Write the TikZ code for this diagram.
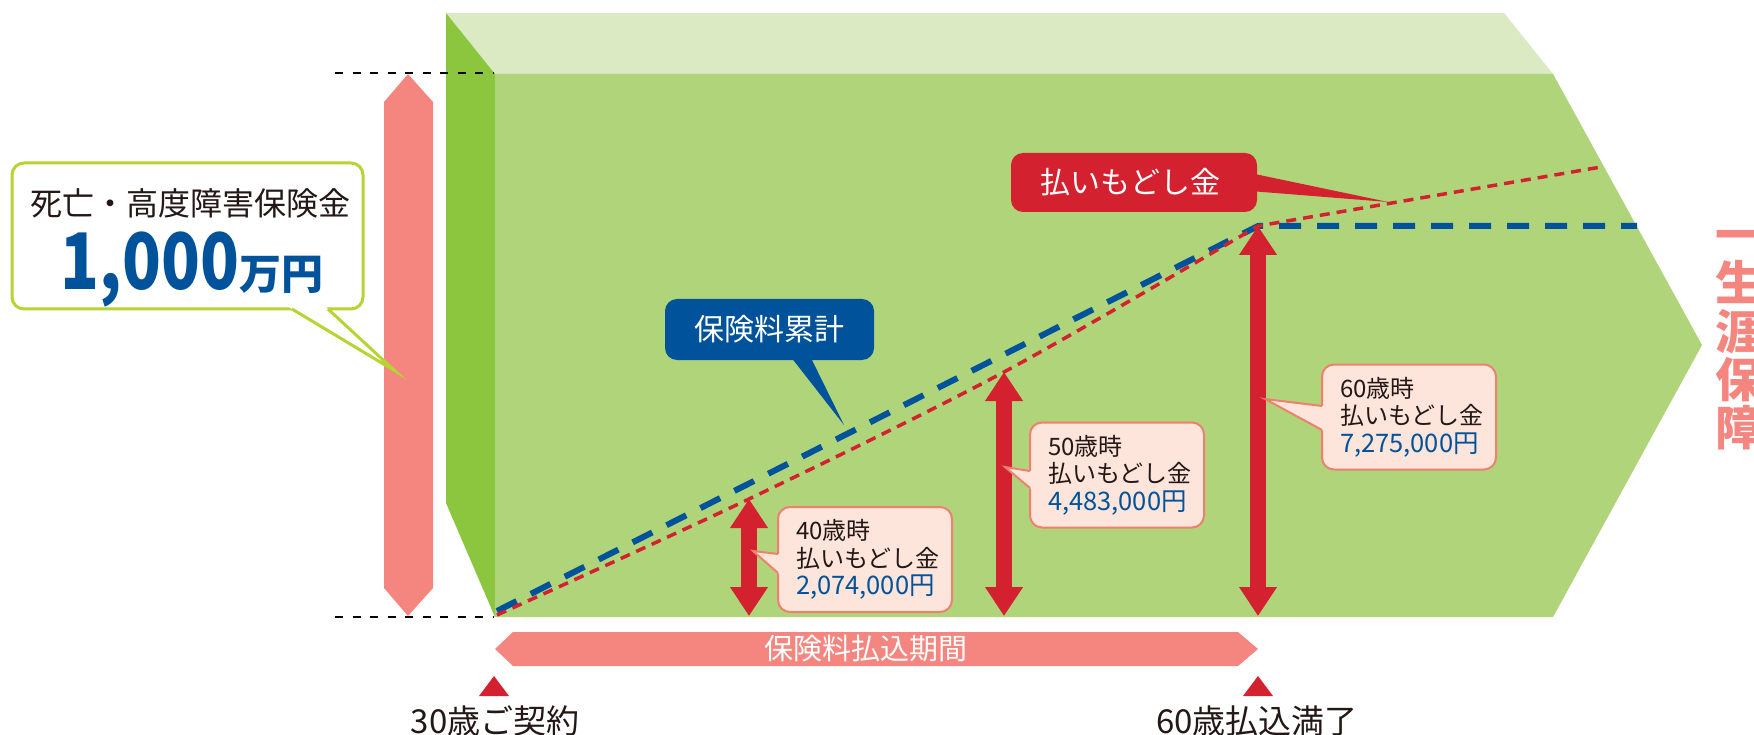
\documentclass[tikz,border=0pt]{standalone}
\usepackage{fontspec}
\usepackage{graphicx}
\setmainfont{Noto Sans CJK JP}
\usetikzlibrary{arrows.meta,calc}
\definecolor{frontg}{HTML}{B0D47A}
\definecolor{sideg}{HTML}{8CC63F}
\definecolor{topg}{HTML}{DBEAC3}
\definecolor{pinkb}{HTML}{F4867F}
\definecolor{redc}{HTML}{D4212F}
\definecolor{bluec}{HTML}{00529B}
\definecolor{cfill}{HTML}{FDE5DC}
\definecolor{cline}{HTML}{F0806E}
\definecolor{yg}{HTML}{B7D334}
\definecolor{txtblack}{HTML}{231815}
\newcommand{\amtline}[1]{\textcolor{bluec}{\fontsize{25.5}{27.5}\selectfont #1}}
\begin{document}
\begin{tikzpicture}[x=1pt,y=-1pt,
  guide/.style={draw=black, line width=2.4pt, dash pattern=on 8pt off 9.5pt},
  bluedash/.style={draw=bluec, line width=6pt, dash pattern=on 22pt off 16pt},
  reddash/.style={draw=redc, line width=3.5pt, dash pattern=on 10pt off 7pt},
  payarrow/.style={draw=redc, line width=16pt, {Triangle[length=29pt,width=36pt]}-{Triangle[length=29pt,width=36pt]}},
  infobox/.style={draw=cline, line width=2pt, fill=cfill, rounded corners=12pt, minimum width=174pt, minimum height=105pt, text width=138pt, align=left, inner sep=0pt, text=txtblack, font=\fontsize{24}{27.5}\selectfont},
  ptrline/.style={draw=cline, line width=2pt, line join=miter},
  labelbox/.style={rounded corners=12pt, inner sep=0pt, text=white, font=\fontsize{30}{30}\selectfont},
  bigtxt/.style={inner sep=0pt, text=txtblack, font=\fontsize{33}{33}\selectfont},
  vtxt/.style={inner sep=0pt, anchor=base, text=pinkb, font=\bfseries\fontsize{47}{47}\selectfont}]
\useasboundingbox (0,0) rectangle (1754,735);
\fill[white] (0,0) rectangle (1754,735);

% box faces
\fill[topg] (446,13) -- (1504,13) -- (1553,74) -- (495,74) -- cycle;
\fill[sideg] (446,13) -- (495,74) -- (495,617) -- (446,503) -- cycle;
\fill[frontg] (495,74) -- (1553,74) -- (1702,345) -- (1553,617) -- (495,617) -- cycle;

% guide lines
\coordinate (gt0) at (335,73); \coordinate (gt1) at (493,73);
\coordinate (gb0) at (335,617); \coordinate (gb1) at (493,617);
\draw[guide] (gt0) -- (gt1);
\draw[guide] (gb0) -- (gb1);

% death benefit bar
\fill[pinkb] (384,102) -- (408,74) -- (433,102) -- (433,588) -- (408,616) -- (384,588) -- cycle;

% lines
\coordinate (b0) at (497,611);
\coordinate (r0) at (497,615);
\coordinate (r40) at (749,499);
\coordinate (r50) at (1004,372);
\coordinate (r60) at (1258,226);
\coordinate (bend) at (1637,226);
\coordinate (rend) at (1601,167);
\draw[bluedash] (b0) -- (r60) -- (bend);
\draw[reddash] plot[smooth, tension=0.5] coordinates {(r0) (r40) (r50) (r60)} -- (rend);

% arrows
\coordinate (a40b) at (749,616);
\coordinate (a50b) at (1004,616);
\coordinate (a60b) at (1258,616);
\draw[payarrow] (r40) -- (a40b);
\draw[payarrow] (r50) -- (a50b);
\draw[payarrow] (r60) -- (a60b);

% info callouts
\node[infobox] (c40) at (865,559.5) {40歳時\\払いもどし金\\\amtline{2,074,000円}};
\coordinate (p40) at (753,551);
\fill[cfill] (p40) -- ($(p40)!1.14!(778,554)$) -- ($(p40)!1.14!(778,573)$) -- cycle;
\draw[ptrline] (778,554) -- (p40) -- (778,573);

\node[infobox] (c50) at (1117,475) {50歳時\\払いもどし金\\\amtline{4,483,000円}};
\coordinate (p50) at (1005,467);
\fill[cfill] (p50) -- ($(p50)!1.14!(1030,471)$) -- ($(p50)!1.14!(1030,488)$) -- cycle;
\draw[ptrline] (1030,471) -- (p50) -- (1030,488);

\node[infobox] (c60) at (1409,417) {60歳時\\払いもどし金\\\amtline{7,275,000円}};
\coordinate (p60) at (1265,399);
\fill[cfill] (p60) -- ($(p60)!1.06!(1322,406)$) -- ($(p60)!1.06!(1322,430)$) -- cycle;
\draw[ptrline] (1322,406) -- (p60) -- (1322,430);

% label callouts
\node[labelbox, fill=bluec, minimum width=209pt, minimum height=61pt] (lb1) at (769.5,329.5) {保険料累計};
\coordinate (q1) at (844,425);
\fill[bluec] (787,352) -- (q1) -- (808,352) -- cycle;

\node[labelbox, fill=redc, minimum width=246pt, minimum height=59pt] (lb2) at (1134,182.5) {\hspace*{-7pt}払いもどし金};
\coordinate (q2) at (1388,202);
\fill[redc] (1250,173) -- (q2) -- (1250,191) -- cycle;

% big callout
\node[draw=yg, line width=3pt, fill=white, rounded corners=12pt, minimum width=351pt, minimum height=146pt, inner sep=0pt] (dbox) at (187.5,236) {};
\coordinate (q3) at (395,371);
\fill[white] (q3) -- ($(q3)!1.05!(292,309)$) -- ($(q3)!1.05!(328,309)$) -- cycle;
\draw[draw=yg, line width=3pt, line join=miter] (292,309) -- (q3) -- (328,309);
\node[inner sep=0pt, text=txtblack, font=\fontsize{32}{32}\selectfont] (ttl) at (190.5,203) {死亡・高度障害保険金};
\node[inner sep=0pt, anchor=base, text=bluec, font=\bfseries] (amt) at (192,290) {\scalebox{0.82}[1]{\fontsize{78}{78}\selectfont 1,000}{\fontsize{42}{42}\selectfont 万円}};

% payment period bar
\fill[pinkb] (495,649) -- (513,632) -- (1238,632) -- (1258,649) -- (1238,666) -- (513,666) -- cycle;
\node[inner sep=0pt, text=white, font=\fontsize{29}{29}\selectfont] (ptxt) at (866,649) {保険料払込期間};

% markers
\fill[redc] (494,676) -- (509,696) -- (479,696) -- cycle;
\fill[redc] (1258,676) -- (1273,696) -- (1243,696) -- cycle;
\node[bigtxt] (s30) at (495,721) {30歳ご契約};
\node[bigtxt] (s60) at (1257,721) {60歳払込満了};

% lifetime coverage
\node[vtxt] (v1) at (1739,253) {一};
\node[vtxt] (v2) at (1739,301) {生};
\node[vtxt] (v3) at (1739,349) {涯};
\node[vtxt] (v4) at (1739,397) {保};
\node[vtxt] (v5) at (1739,445) {障};
\end{tikzpicture}
\end{document}
